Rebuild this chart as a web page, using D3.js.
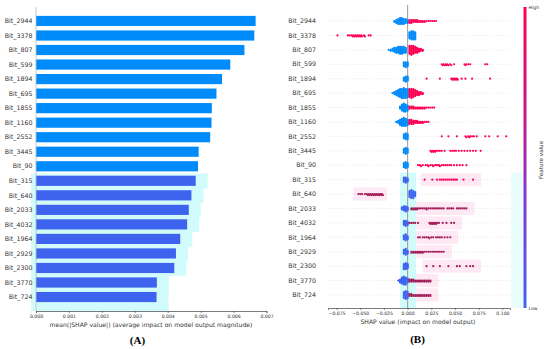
<!DOCTYPE html>
<html>
<head>
<meta charset="utf-8">
<script src="https://cdn.jsdelivr.net/npm/d3@7"></script>
<style>
body { margin: 0; background: #fff; }
svg { display: block; font-family: "DejaVu Sans", sans-serif; }
</style>
</head>
<body>
<svg id="chart" width="550" height="349"></svg>
<script>
var features = ["Bit_2944", "Bit_3378", "Bit_807", "Bit_599", "Bit_1894", "Bit_695", "Bit_1855",
    "Bit_1160", "Bit_2552", "Bit_3445", "Bit_90", "Bit_315", "Bit_640", "Bit_2033", "Bit_4032",
    "Bit_1964", "Bit_2929", "Bit_2300", "Bit_3770", "Bit_724"]

// panel A: mean(|SHAP value|)
var meanAbsShap = [0.00667, 0.00663, 0.00633, 0.0059, 0.00565, 0.00548, 0.00534, 0.00533, 0.00529,
    0.00494, 0.00492, 0.00485, 0.00472, 0.00464, 0.00459, 0.00438, 0.00425, 0.0042, 0.00367, 0.00366]
var ticksA = [0, 0.001, 0.002, 0.003, 0.004, 0.005, 0.006, 0.007]

// panel B: beeswarm, dense parts as counts per 0.002 bin, sparse parts as single values
var ticksB = [-0.075, -0.05, -0.025, 0, 0.025, 0.05, 0.075, 0.1]
var binStep = 0.002
var lowStart = [-0.014, 0.002, -0.020, -0.004, -0.004, -0.016, -0.008, -0.012, -0.004, -0.004,
    -0.004, -0.004, 0.002, -0.006, -0.004, -0.004, -0.004, -0.004, -0.010, -0.004]
var lowCounts = [
    [2, 4, 6, 7, 7, 6, 5, 4],
    [7, 9, 9, 8],
    [1, 2, 3, 5, 6, 7, 8, 8, 7, 6],
    [5, 6, 5],
    [4, 6, 5],
    [1, 3, 5, 7, 9, 10, 11, 10, 9],
    [3, 7, 9, 8, 6],
    [1, 3, 6, 8, 9, 8, 6],
    [5, 7, 6],
    [5, 7, 5],
    [5, 7, 5],
    [5, 6, 4],
    [7, 9, 8, 5],
    [3, 5, 6, 4],
    [5, 6, 4],
    [5, 7, 4],
    [5, 7, 4],
    [6, 7, 5],
    [1, 4, 7, 9, 8, 5],
    [7, 9, 7]
]
var highStart = [0.002, 0, 0.002, 0, 0, 0.002, 0.002, 0.002, 0, 0, 0, 0, 0, 0.004, 0, 0, 0.004, 0, 0.002, 0.002]
var highCounts = [
    [4, 4, 3, 3, 3, 2, 2, 2, 2, 1, 1, 1, 1, 1, 1],
    [],
    [9, 10, 9, 7, 6, 4, 3, 2],
    [], [],
    [9, 10, 9, 7, 5, 4, 3, 2],
    [3, 3, 3, 2, 2, 2, 2, 2, 2, 1, 1, 1, 1, 1],
    [5, 5, 4, 3, 3, 2, 2, 2, 1, 1, 1],
    [], [], [], [], [],
    [2, 2, 2, 2, 1, 1, 1, 1, 2, 1, 1, 1, 1, 1, 1, 1, 1, 1, 0, 1, 1, 1, 1, 0, 1, 1, 1, 1, 1, 1],
    [], [],
    [2, 2, 2, 2, 2, 2, 2, 1, 1, 1, 1, 1, 1, 1, 1, 1, 1, 1],
    [],
    [3, 3, 3, 2, 2, 2, 2, 2, 2, 2, 2, 2],
    [3, 3, 2, 2, 2, 2, 2, 2, 2, 2, 2, 2]
]
var highDots = [
    [],
    [-0.074, -0.063, -0.061, -0.059, -0.058, -0.057, -0.056, -0.055, -0.054, -0.053, -0.052, -0.051,
        -0.05, -0.049, -0.048, -0.046, -0.045, -0.041, -0.039],
    [],
    [0.036, 0.037, 0.038, 0.039, 0.04, 0.041, 0.042, 0.043, 0.045, 0.046, 0.049, 0.06, 0.061, 0.062,
        0.064, 0.066, 0.082, 0.084],
    [0.02, 0.034, 0.046, 0.047, 0.048, 0.049, 0.05, 0.051, 0.052, 0.053, 0.057, 0.061, 0.068, 0.087],
    [], [], [],
    [0.036, 0.043, 0.052, 0.061, 0.062, 0.064, 0.065, 0.066, 0.068, 0.07, 0.073, 0.082, 0.086, 0.095, 0.104],
    [0.024, 0.025, 0.026, 0.027, 0.028, 0.029, 0.03, 0.032, 0.034, 0.036, 0.039, 0.045, 0.047, 0.049,
        0.051, 0.054, 0.057, 0.06, 0.063, 0.066, 0.069, 0.072, 0.077],
    [0.011, 0.013, 0.014, 0.016, 0.019, 0.021, 0.022, 0.024, 0.026, 0.027, 0.029, 0.031, 0.033, 0.034,
        0.036, 0.038, 0.04, 0.042, 0.044, 0.046, 0.049, 0.052, 0.055, 0.058, 0.062],
    [0.018, 0.026, 0.031, 0.034, 0.036, 0.038, 0.04, 0.042, 0.044, 0.046, 0.048, 0.05, 0.052, 0.059, 0.069],
    [-0.052, -0.05, -0.048, -0.045, -0.043, -0.042, -0.041, -0.04, -0.039, -0.038, -0.037, -0.036,
        -0.035, -0.034, -0.033, -0.032, -0.031, -0.03, -0.029, -0.028, -0.027, -0.026],
    [],
    [0.002, 0.004, 0.006, 0.008, 0.011, 0.023, 0.024, 0.025, 0.026, 0.027, 0.028, 0.029, 0.03, 0.031,
        0.033, 0.037, 0.041, 0.046, 0.049],
    [0.011, 0.013, 0.016, 0.018, 0.02, 0.022, 0.023, 0.025, 0.027, 0.03, 0.032, 0.034, 0.036, 0.039, 0.042, 0.045],
    [],
    [0.02, 0.027, 0.034, 0.043, 0.052, 0.055, 0.062, 0.066, 0.069],
    [], []
]

var svg = d3.select("#chart")
var shadedFrom = 11   // rows below this are drawn over a tinted highlight in the figure
var BLUE = "#008bfb", RED = "#ff0052"
var BLUE2 = "#3d63ef", RED2 = "#a21c58"

// ---------- panel A ----------
var xA = d3.scaleLinear().domain([0, 0.007]).range([36, 266.5])
var yA = d3.scaleBand().domain(features).range([13.7, 304.3]).paddingInner(0.3).paddingOuter(0.15)
var stepA = yA.step()

var gA = svg.append("g")
gA.selectAll("rect.hl")
    .data(features.filter((f, i) => i >= shadedFrom))
    .enter().append("rect")
    .attr("class", "hl")
    .attr("x", 31)
    .attr("y", d => yA(d) - (stepA - yA.bandwidth()) / 2)
    .attr("width", d => xA(meanAbsShap[features.indexOf(d)]) + 12 - 31)
    .attr("height", (d, i, n) => i === n.length - 1 ? 311 - (yA(d) - (stepA - yA.bandwidth()) / 2) : stepA + 0.5)
    .attr("fill", "#d2fbfb")

gA.selectAll("rect.bar")
    .data(features)
    .enter().append("rect")
    .attr("class", "bar")
    .attr("x", xA(0))
    .attr("y", d => yA(d))
    .attr("width", (d, i) => xA(meanAbsShap[i]) - xA(0))
    .attr("height", yA.bandwidth())
    .attr("fill", (d, i) => i >= shadedFrom ? BLUE2 : BLUE)

gA.append("line")
    .attr("x1", xA(0)).attr("x2", xA(0))
    .attr("y1", 7).attr("y2", 311)
    .attr("stroke", "#bbb").attr("stroke-width", 0.8)

gA.selectAll("text.lab")
    .data(features)
    .enter().append("text")
    .attr("class", "lab")
    .attr("x", 32.5)
    .attr("y", d => yA(d) + yA.bandwidth() / 2)
    .attr("dy", "0.35em")
    .attr("text-anchor", "end")
    .attr("font-size", 6.3)
    .attr("fill", "#333")
    .text(d => d)

var axA = gA.append("g")
    .attr("transform", "translate(0,311)")
    .call(d3.axisBottom(xA).tickValues(ticksA).tickFormat(d3.format(".3f")).tickSize(2).tickPadding(2))
axA.select(".domain").attr("stroke", "#444").attr("stroke-width", 0.7)
axA.selectAll(".tick line").attr("stroke", "#444").attr("stroke-width", 0.6)
axA.selectAll("text").attr("font-size", 4.6).attr("fill", "#333").attr("font-family", "DejaVu Sans")

gA.append("text")
    .attr("x", 151).attr("y", 326.5)
    .attr("text-anchor", "middle")
    .attr("font-size", 6.1)
    .attr("fill", "#333")
    .text("mean(|SHAP value|) (average impact on model output magnitude)")

gA.append("text")
    .attr("x", 137.5).attr("y", 343.5)
    .attr("text-anchor", "middle")
    .attr("font-family", "Liberation Serif, serif")
    .attr("font-weight", "bold")
    .attr("font-size", 11)
    .attr("fill", "#000")
    .text("(A)")

// ---------- panel B ----------
var xB = d3.scaleLinear().domain([-0.084, 0.108]).range([328, 510])
var yB = d3.scalePoint().domain(features).range([21, 295])

var gB = svg.append("g")

// tinted highlight areas of the figure
gB.append("rect")
    .attr("x", xB(-0.008)).attr("y", yB(features[shadedFrom]) - 7)
    .attr("width", xB(0.009) - xB(-0.008))
    .attr("height", 308 - yB(features[shadedFrom]) + 7)
    .attr("fill", "#d2fbfb")
gB.append("rect")
    .attr("x", 511).attr("y", yB(features[shadedFrom]) - 7)
    .attr("width", 12).attr("height", 308 - yB(features[shadedFrom]) + 7)
    .attr("fill", "#eafdfd")

// build point list per row
var rows = features.map((f, i) => {
    var pts = []
    lowCounts[i].forEach((c, j) => {
        for (var k = 0; k < c; k++) pts.push({v: lowStart[i] + j * binStep, hi: false})
    })
    highCounts[i].forEach((c, j) => {
        for (var k = 0; k < c; k++) pts.push({v: highStart[i] + j * binStep, hi: true})
    })
    highDots[i].forEach(v => pts.push({v: v, hi: true}))
    return {name: f, i: i, pts: pts}
})

// pink tint behind the high-value dots on the lower rows
rows.filter(r => r.i >= shadedFrom).forEach(r => {
    var hv = r.pts.filter(p => p.hi).map(p => p.v)
    var lo = d3.min(hv), hi = d3.max(hv)
    var x0 = lo > 0 ? Math.max(xB(lo) - 4, xB(0.009)) : xB(lo) - 5
    var x1 = lo > 0 ? xB(hi) + 8 : xB(hi) + 4
    gB.append("rect")
        .attr("x", x0).attr("y", yB(r.name) - 6.5)
        .attr("width", x1 - x0).attr("height", 13)
        .attr("fill", "#fde8f4")
})

gB.selectAll("line.grid")
    .data(features)
    .enter().append("line")
    .attr("class", "grid")
    .attr("x1", 328).attr("x2", 510)
    .attr("y1", d => yB(d)).attr("y2", d => yB(d))
    .attr("stroke", "#ccc").attr("stroke-width", 0.5)
    .attr("stroke-dasharray", "1,2")

gB.append("line")
    .attr("x1", xB(0)).attr("x2", xB(0))
    .attr("y1", 5).attr("y2", 308)
    .attr("stroke", "#999").attr("stroke-width", 1)

// simple beeswarm: stack points that collide, alternating up and down
function swarm(pts, cy) {
    var placed = []
    pts.forEach(p => { p.px = xB(p.v) })
    pts.sort((a, b) => a.px - b.px)
    pts.forEach(p => {
        for (var k = 0; k < 60; k++) {
            var off = (k % 2 ? 1 : -1) * Math.ceil(k / 2) * 1.0
            var ok = placed.every(q => Math.abs(q.px - p.px) >= 1.0 || Math.abs(q.py - (cy + off)) >= 0.95)
            if (ok) { p.py = cy + off; break }
        }
        placed.push(p)
    })
}
rows.forEach(r => swarm(r.pts, yB(r.name)))

rows.forEach(r => {
    var shaded = r.i >= shadedFrom
    var ordered = r.pts.filter(p => !p.hi).concat(r.pts.filter(p => p.hi))
    gB.append("g").selectAll("circle")
        .data(ordered)
        .enter().append("circle")
        .attr("cx", p => p.px)
        .attr("cy", p => p.py)
        .attr("r", 1.1)
        .attr("fill", p => p.hi ? (shaded && r.i > shadedFrom ? RED2 : RED) : (shaded ? BLUE2 : BLUE))
})

gB.selectAll("text.lab")
    .data(features)
    .enter().append("text")
    .attr("class", "lab")
    .attr("x", 316)
    .attr("y", d => yB(d))
    .attr("dy", "0.35em")
    .attr("text-anchor", "end")
    .attr("font-size", 6.3)
    .attr("fill", "#333")
    .text(d => d)

var axB = gB.append("g")
    .attr("transform", "translate(0,308)")
    .call(d3.axisBottom(xB).tickValues(ticksB).tickFormat(d3.format(".3f")).tickSize(2).tickPadding(2))
axB.select(".domain").attr("stroke", "#444").attr("stroke-width", 0.7)
axB.selectAll(".tick line").attr("stroke", "#444").attr("stroke-width", 0.6)
axB.selectAll("text").attr("font-size", 4.6).attr("fill", "#333").attr("font-family", "DejaVu Sans")

gB.append("text")
    .attr("x", 418).attr("y", 323.5)
    .attr("text-anchor", "middle")
    .attr("font-size", 6.1)
    .attr("fill", "#333")
    .text("SHAP value (impact on model output)")

gB.append("text")
    .attr("x", 417.5).attr("y", 343)
    .attr("text-anchor", "middle")
    .attr("font-family", "Liberation Serif, serif")
    .attr("font-weight", "bold")
    .attr("font-size", 11)
    .attr("fill", "#000")
    .text("(B)")

// colour bar
var grad = svg.append("defs").append("linearGradient")
    .attr("id", "fv").attr("x1", 0).attr("y1", 0).attr("x2", 0).attr("y2", 1)
grad.append("stop").attr("offset", "0%").attr("stop-color", "#ff0052")
grad.append("stop").attr("offset", "35%").attr("stop-color", "#c8158e")
grad.append("stop").attr("offset", "60%").attr("stop-color", "#8a34c8")
grad.append("stop").attr("offset", "100%").attr("stop-color", "#4263f2")

svg.append("rect")
    .attr("x", 523.5).attr("y", 7)
    .attr("width", 3).attr("height", 301)
    .attr("fill", "url(#fv)")

svg.append("text").attr("x", 528.5).attr("y", 8.5)
    .attr("font-size", 4.6).attr("fill", "#333").text("High")
svg.append("text").attr("x", 528.5).attr("y", 310)
    .attr("font-size", 4.6).attr("fill", "#333").text("Low")
svg.append("text")
    .attr("transform", "translate(543,160) rotate(-90)")
    .attr("text-anchor", "middle")
    .attr("font-size", 5.6)
    .attr("fill", "#333")
    .text("Feature value")
</script>
</body>
</html>
